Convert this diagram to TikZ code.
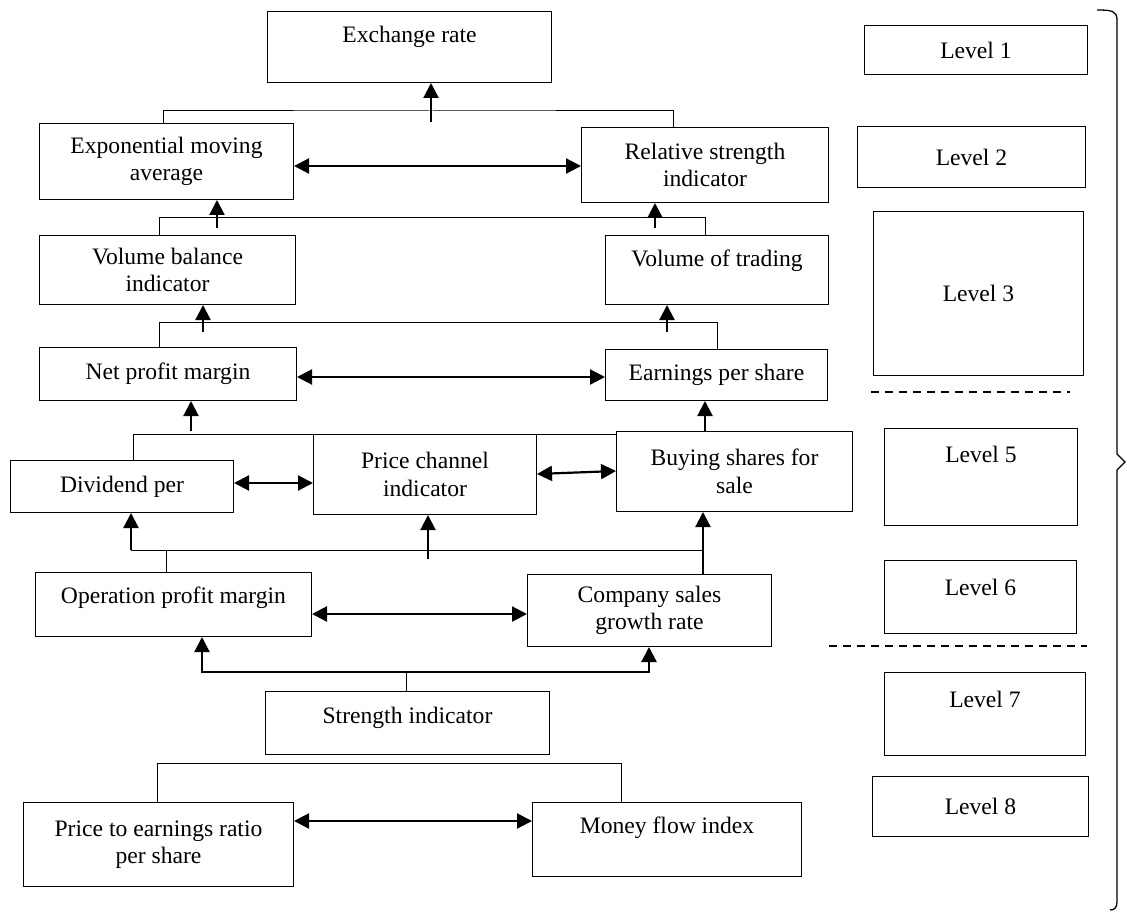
\documentclass[tikz,border=0pt]{standalone}
\usepackage{fontspec}
\setmainfont{Liberation Serif}
\usetikzlibrary{arrows.meta}

\tikzset{
  box/.style = {draw, line width=1pt, inner sep=0pt, anchor=north west,
                align=center, font=\fontsize{23.6}{27.5}\selectfont},
  topbox/.style 2 args = {box, text height=#1, text depth=#2},
  arr/.style = {line width=2.2pt, -{Triangle[length=15pt,width=15pt]}},
  dbl/.style = {line width=2.2pt,
                {Triangle[length=15pt,width=15pt]}-{Triangle[length=15pt,width=15pt]}},
  link/.style = {line width=1pt},
  levelsep/.style = {line width=1.2pt, dash pattern=on 8pt off 6pt}
}

\begin{document}
\begin{tikzpicture}[x=1pt,y=-1pt]
    \useasboundingbox (0,0) rectangle (1127,912);

    % indicator boxes
    \node[topbox={31pt}{40pt},minimum width=284pt] (exch) at (267,11) {Exchange rate};
    \node[box,minimum width=254pt,minimum height=76pt] (ema) at (39,123) {Exponential moving\\average};
    \node[box,minimum width=247pt,minimum height=75pt] (rsi) at (581,127) {Relative strength\\indicator};
    \node[box,minimum width=256pt,minimum height=69pt] (vbi) at (39,235) {Volume balance\\indicator};
    \node[topbox={31pt}{38pt},minimum width=223pt] (vot) at (605,235) {Volume of trading};
    \node[box,minimum width=257pt,minimum height=53pt] (npm) at (39,347) {Net profit margin};
    \node[box,minimum width=222pt,minimum height=51pt] (eps) at (605,349) {Earnings per share};
    \node[box,minimum width=223pt,minimum height=52pt] (div) at (10,460) {Dividend per};
    \node[box,minimum width=223pt,minimum height=80pt] (pci) at (313,434) {Price channel\\indicator};
    \node[box,minimum width=236pt,minimum height=80pt] (bsh) at (616,431) {Buying shares for\\sale};
    \node[topbox={31pt}{33pt},minimum width=276pt] (opm) at (35,572) {Operation profit margin};
    \node[box,minimum width=244pt,minimum height=72pt] (csg) at (527,574) {Company sales\\growth rate};
    \node[topbox={32pt}{31pt},minimum width=284pt] (str) at (265,691) {Strength indicator};
    \node[box,minimum width=270pt,minimum height=84pt] (pe) at (23,802) {Price to earnings ratio\\per share};
    \node[topbox={31pt}{43pt},minimum width=269pt] (mfi) at (532,802) {Money flow index};

    % level boxes
    \node[box,minimum width=223pt,minimum height=49pt] (lv1) at (864,25) {Level 1};
    \node[box,minimum width=228pt,minimum height=61pt] (lv2) at (857,126) {Level 2};
    \node[box,minimum width=210pt,minimum height=164pt] (lv3) at (873,211) {Level 3};
    \node[topbox={34pt}{63pt},minimum width=193pt] (lv5) at (884,428) {Level 5};
    \node[topbox={35pt}{38pt},minimum width=192pt] (lv6) at (884,560) {Level 6};
    \node[topbox={35pt}{48pt},minimum width=201pt] (lv7) at (884,672) {Level 7};
    \node[box,minimum width=216pt,minimum height=60pt] (lv8) at (872,776) {Level 8};

    \coordinate (s3) at (871,392);
    \coordinate (s6) at (829,646);
    \draw[levelsep] (s3) -- ++(199,0);
    \draw[levelsep] (s6) -- ++(258,0);

    % brace
    \coordinate (bt) at (1097,10);
    \coordinate (bm) at (1125,462);
    \coordinate (bb) at (1110,910);
    \draw[line width=1.3pt] (bt) .. controls (1112,10) and (1117,11) .. (1117,20)
        -- (1117,454) -- (bm) -- (1117,470) -- (1117,902)
        .. controls (1117,908) and (1114,910) .. (bb);

    % level 2 -> level 1
    \coordinate (j1) at (431,111);
    \draw[link] (ema.north -| 163,0) |- (j1) -| (rsi.north -| 673,0);
    \draw[arr] (431,122) -- (exch.south -| 431,0);
    \draw[dbl] (ema.east |- 0,166) -- (rsi.west |- 0,166);

    % level 3 -> level 2
    \draw[link] (vbi.north -| 159,0) -- ++(0,-17) -| (vot.north -| 705,0);
    \draw[arr] (217,228) -- (ema.south -| 217,0);
    \draw[arr] (655,228) -- (rsi.south -| 655,0);

    % level 4 -> level 3
    \draw[link] (npm.north -| 159,0) -- ++(0,-25) -| (eps.north -| 717,0);
    \draw[arr] (203,332) -- (vbi.south -| 203,0);
    \draw[arr] (667,332) -- (vot.south -| 667,0);
    \draw[dbl] (npm.east |- 0,377) -- (eps.west |- 0,377);

    % level 5 -> level 4
    \draw[link] (div.north -| 133,0) -- ++(0,-26) -- (bsh.west |- 0,434);
    \draw[arr] (191,431) -- (npm.south -| 191,0);
    \draw[arr] (bsh.north -| 705,0) -- (eps.south -| 705,0);
    \draw[dbl] (div.east |- 0,483) -- (pci.west |- 0,483);
    \draw[dbl] (pci.east |- 0,474) -- (bsh.west |- 0,471);

    % level 6 -> level 5
    \coordinate (j6) at (131,550);
    \draw[link] (opm.north -| 166,0) -- ++(0,-22) -- (j6);
    \draw[link] (j6) -- (703,550);
    \draw[arr] (j6) -- (div.south -| j6);
    \draw[arr] (428,559) -- (pci.south -| 428,0);
    \draw[arr] (csg.north -| 703,0) -- (bsh.south -| 703,0);
    \draw[dbl] (opm.east |- 0,614) -- (csg.west |- 0,614);

    % level 7 -> level 6
    \coordinate (j7) at (406,672);
    \draw[link] (str.north -| j7) -- (j7);
    \draw[line width=1.4pt] (202,672) -- (649,672);
    \draw[arr] (202,673) -- (opm.south -| 202,0);
    \draw[arr] (649,673) -- (csg.south -| 649,0);

    % level 8
    \draw[link] (pe.north -| 157,0) -- ++(0,-39) -| (mfi.north -| 621,0);
    \draw[dbl] (pe.east |- 0,821) -- (mfi.west |- 0,821);
\end{tikzpicture}
\end{document}
